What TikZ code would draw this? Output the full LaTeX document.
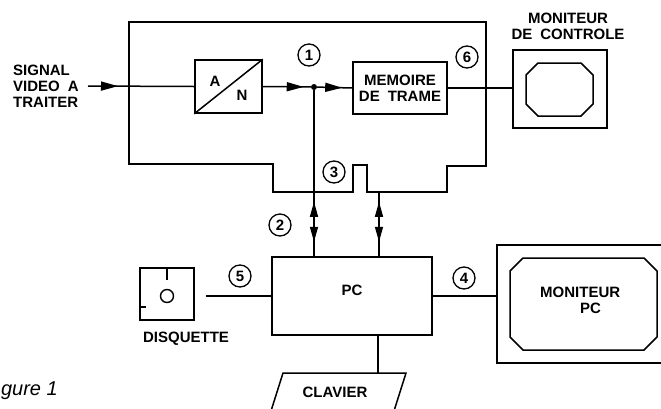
\documentclass[tikz,border=0pt]{standalone}
\usepackage{fontspec}
\setmainfont{Liberation Sans}
\usepackage{tikz}
\usetikzlibrary{arrows.meta,positioning,shapes.geometric,calc,decorations.markings}

\begin{document}
\begin{tikzpicture}[
      x=1pt, y=-1pt,
      wire/.style={line width=1.5pt},
      box/.style={draw, line width=1.5pt, inner sep=0pt},
      lab/.style={font=\bfseries\fontsize{15}{16}\selectfont, inner sep=0pt},
      num/.style={circle, draw, line width=1.3pt, minimum size=22pt, inner sep=0pt, font=\bfseries\fontsize{15}{15}\selectfont},
      midtip/.style={postaction={decorate}, decoration={markings,
        mark=at position #1 with {\arrow{Triangle[length=17pt,width=9pt]}}}},
      bus/.style={wire, postaction={decorate}, decoration={markings,
        mark=at position 54pt with {\arrow{Triangle[length=15pt,width=8pt]}},
        mark=at position 14pt with {\arrowreversed{Triangle[length=15pt,width=8pt]}}}}
    ]
      \useasboundingbox (0,0) rectangle (661,408);
      \clip (0,0) rectangle (661,408);

      % carte
      \draw[wire] (129,22) -- (486,22) -- (486,166) -- (447,166) -- (447,192)
        -- (367,192) -- (367,165) -- (353,165) -- (353,192) -- (273,192)
        -- (273,164) -- (129,164) -- cycle;

      \node[lab, align=left, anchor=west] (sig) at (13,86) {SIGNAL\\VIDEO\hspace{8pt}A\\TRAITER};
      \coordinate (inpt) at (88,86);

      \node[box, minimum width=67pt, minimum height=53pt] (an) at (228.5,86.5) {};
      \draw[wire] (an.south west) -- (an.north east);
      \node[lab] (lblA) at (215,81) {A};
      \node[lab] (lblN) at (242,95) {N};

      \node[box, lab, minimum width=94pt, minimum height=52pt, align=center] (mem) at (400,88) {MEMOIRE\\DE\hspace{8pt}TRAME};
      \node[circle, fill, inner sep=0pt, minimum size=6pt] (jn) at (314,87) {};

      \draw[wire, midtip=30pt] (inpt) -- (an.west);
      \draw[wire, midtip=41pt] (an.east) -- (jn);
      \draw[wire, midtip=25pt] (jn) -- (mem.west);

      % moniteur de controle
      \node[box, minimum width=94pt, minimum height=78pt] (mc) at (560,89) {};
      \draw[wire] (538,63) -- (581,63) -- (593,75) -- (593,104) -- (581,116)
        -- (538,116) -- (526,104) -- (526,75) -- cycle;
      \node[lab, align=center] (mclab) at (568,26) {MONITEUR\\DE\hspace{8pt}CONTROLE};
      \draw[wire] (mem.east) -- (mem.east -| mc.west);

      % PC
      \node[draw, line width=2.4pt, minimum width=160pt, minimum height=78pt] (pc) at (352,296) {};
      \node[lab] (pclab) at (352,290) {PC};
      \coordinate (b2) at (379,192);
      \draw[bus] (jn |- pc.north) -- (jn);
      \draw[bus] (b2 |- pc.north) -- (b2);

      % moniteur PC
      \node[box, minimum width=183pt, minimum height=118pt] (mpc) at (588.5,304) {};
      \draw[wire] (523,258) -- (644,258) -- (657,271) -- (657,337) -- (644,350)
        -- (523,350) -- (510,337) -- (510,271) -- cycle;
      \node[lab, align=left, anchor=west] (mpclab) at (540,300) {MONITEUR\\\hspace*{40pt}PC};
      \draw[wire] (pc.east) -- (pc.east -| mpc.west);

      % disquette
      \node[box, minimum width=54pt, minimum height=52pt] (fd) at (167,294) {};
      \node[circle, draw, line width=1.4pt, minimum size=13pt, inner sep=0pt] (hole) at (167,296) {};
      \draw[wire] (fd.north) -- ++(0,13);
      \draw[wire] ([yshift=-13pt]fd.west) -- ++(7,0);
      \node[lab] (fdlab) at (186,339) {DISQUETTE};
      \coordinate (fdout) at (206,296);
      \draw[wire] (fdout) -- (fdout -| pc.west);

      % clavier
      \node[lab] (kb) at (335,392) {CLAVIER};
      \draw[wire] (283,373) -- (406,373) -- (394,411) -- (271,411) -- cycle;
      \coordinate (kbtap) at ([xshift=26pt]pc.south);
      \draw[wire] (kbtap) -- (kbtap |- 0,373);

      % reperes
      \node[num] (n1) at (309,55) {1};
      \node[num] (n2) at (280,225) {2};
      \node[num] (n3) at (334,172) {3};
      \node[num] (n4) at (464,278) {4};
      \node[num] (n5) at (240,276) {5};
      \node[num] (n6) at (467,57) {6};

      \node[anchor=base east, inner sep=0pt, font=\itshape\fontsize{20}{20}\selectfont] (fig) at (58,395) {gure 1};
    \end{tikzpicture}
\end{document}
